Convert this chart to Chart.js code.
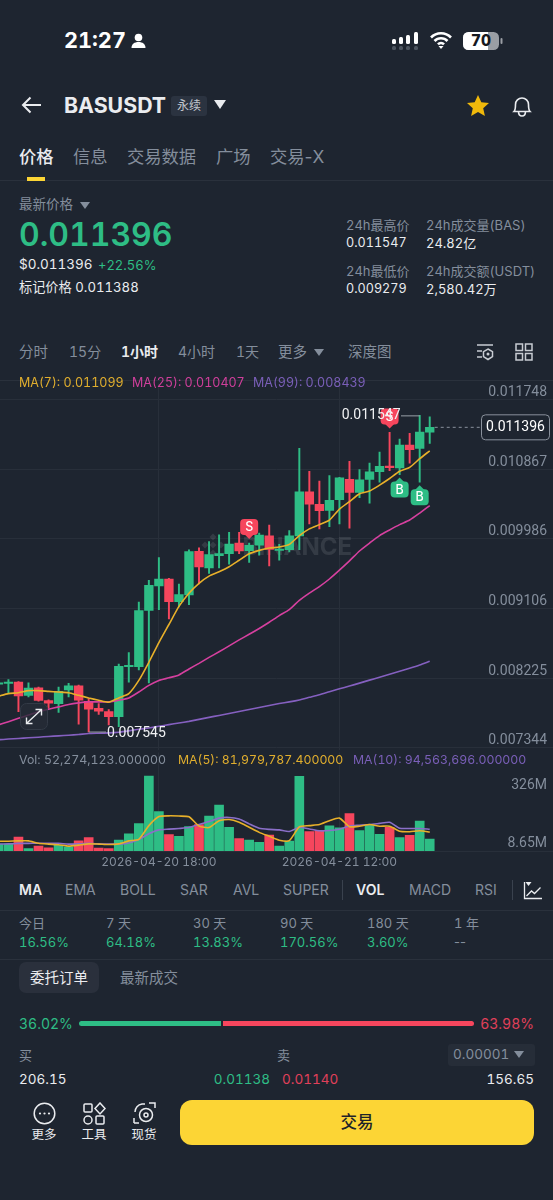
<!DOCTYPE html>
<html><head><meta charset="utf-8">
<script src="https://cdn.jsdelivr.net/npm/chart.js@4/dist/chart.umd.min.js"></script>
<style>
html,body{margin:0;padding:0;background:#1e2530;}
#app{position:relative;width:553px;height:1200px;overflow:hidden;background:#1e2530;font-family:Inter,"Noto Sans CJK SC",sans-serif;color:#eaecef;font-variant-numeric:tabular-nums;}
.t{position:absolute;white-space:nowrap;transform:translateY(-50%);line-height:1;}
.r{transform:translate(-100%,-50%);}
.c{transform:translate(-50%,-50%);}
.g{color:#848e9c}.w{color:#eaecef}.up{color:#2ebd85}.dn{color:#e0405a}
.line{position:absolute;left:0;width:553px;height:1px;background:#2a313c;}
canvas{position:absolute;left:0;}
svg{position:absolute;}
</style></head><body><div id="app">

<span class="t" style="left:64px;top:41px;font-size:21.700px;font-weight:700;color:#fff">21:27</span>
<svg style="left:130px;top:33px" width="17" height="16" viewBox="0 0 17 16"><circle cx="8.5" cy="4.5" r="3.8" fill="#fff"/><path d="M1.5 15c0-4 3-6 7-6s7 2 7 6z" fill="#fff"/></svg>
<svg style="left:391px;top:31px" width="30" height="20" viewBox="0 0 30 20"><g fill="#fff"><rect x="1" y="8" width="4" height="5" rx="1.5"/><rect x="8" y="6" width="4" height="7" rx="1.5"/><rect x="15" y="4" width="4" height="9" rx="1.5"/><rect x="23" y="1" width="4" height="12" rx="1.5"/></g><g fill="#4d5560"><rect x="1" y="15" width="4" height="4" rx="1.5"/><rect x="8" y="15" width="4" height="4" rx="1.5"/><rect x="15" y="15" width="4" height="4" rx="1.5"/><rect x="23" y="15" width="4" height="4" rx="1.5"/></g></svg>
<svg style="left:429px;top:30px" width="24" height="20" viewBox="0 0 24 20"><path d="M2 7.5a14 14 0 0 1 20 0M5.5 11a9 9 0 0 1 13 0M9 14.3a4 4 0 0 1 6 0" fill="none" stroke="#fff" stroke-width="2.6"/><path d="M12 19l-2.5-3h5z" fill="#fff"/></svg>
<svg style="left:462px;top:31px" width="42" height="20" viewBox="0 0 42 20"><rect x="1" y="1" width="36" height="18" rx="5.5" fill="#9a9ea4"/><path d="M6.5 1H26v18H6.5A5.5 5.5 0 0 1 1 13.5v-7A5.5 5.5 0 0 1 6.5 1z" fill="#fff"/><rect x="38.5" y="7" width="2" height="6" rx="1" fill="#9a9ea4"/></svg>
<span class="t c" style="left:481px;top:41px;font-size:15.5px;font-weight:800;color:#15191f">70</span>

<svg style="left:21px;top:95px" width="21" height="20" viewBox="0 0 21 20"><path d="M20 10H2M9.5 2.5L2 10l7.5 7.5" fill="none" stroke="#eaecef" stroke-width="2"/></svg>
<span class="t" style="left:64px;top:106px;font-size:21.300px;font-weight:700;color:#eaecef">BASUSDT</span>
<div style="position:absolute;left:171px;top:96px;width:36px;height:20px;border-radius:3px;background:#2b3340"></div>
<span class="t c" style="left:189px;top:106px;font-size:12px;color:#c0c5cc">永续</span>
<svg style="left:214px;top:100px" width="12" height="9" viewBox="0 0 12 9"><path d="M0 0h12L6 9z" fill="#eaecef"/></svg>
<svg style="left:466px;top:94px" width="24" height="23" viewBox="0 0 24 23"><path d="M12 1l3.3 7.3 7.7.8-5.8 5.2 1.7 7.7L12 18l-6.9 4 1.7-7.7L1 9.1l7.7-.8z" fill="#f0b90b"/></svg>
<svg style="left:511px;top:94px" width="22" height="24" viewBox="0 0 22 24"><path d="M3 17.5c1.5-1.5 1.5-4 1.5-7a6.5 6.5 0 0 1 13 0c0 3 0 5.500 1.500 7zM7.500 17.500c0 6 7 6 7 0" fill="none" stroke="#eaecef" stroke-width="1.600"/></svg>

<span class="t" style="left:19px;top:157px;font-size:17.300px;color:#eaecef;font-weight:500">价格</span>
<span class="t g" style="left:73px;top:157px;font-size:17.300px">信息</span>
<span class="t g" style="left:127px;top:157px;font-size:17.300px">交易数据</span>
<span class="t g" style="left:216px;top:157px;font-size:17.300px">广场</span>
<span class="t g" style="left:270px;top:157px;font-size:17.300px;font-variant-numeric:normal">交易-X</span>
<div class="line" style="top:180px"></div>
<div style="position:absolute;left:27px;top:177px;width:18px;height:4px;background:#fcd535"></div>

<span class="t g" style="left:19px;top:205px;font-size:13.500px">最新价格</span>
<svg style="left:80px;top:202px" width="10" height="7" viewBox="0 0 10 7"><path d="M0 0h10L5 7z" fill="#848e9c"/></svg>
<span class="t up" style="left:19px;top:235px;font-size:32px;font-weight:600">0.011396</span>
<span class="t" style="left:19px;top:265px;font-size:13.500px">$0.011396</span>
<span class="t up" style="left:98px;top:265px;font-size:13px">+22.56%</span>
<span class="t" style="left:19px;top:288px;font-size:13.200px">标记价格 0.011388</span>

<span class="t g" style="left:346px;top:225px;font-size:13px">24h最高价</span>
<span class="t" style="left:346px;top:243px;font-size:12.600px">0.011547</span>
<span class="t g" style="left:426px;top:225px;font-size:13px">24h成交量(BAS)</span>
<span class="t" style="left:426px;top:243px;font-size:13px">24.82亿</span>
<span class="t g" style="left:346px;top:271px;font-size:13px">24h最低价</span>
<span class="t" style="left:346px;top:289px;font-size:12.600px">0.009279</span>
<span class="t g" style="left:426px;top:271px;font-size:13px">24h成交额(USDT)</span>
<span class="t" style="left:426px;top:289px;font-size:13px">2,580.42万</span>

<span class="t g" style="left:19px;top:352px;font-size:14.500px">分时</span>
<span class="t g" style="left:69px;top:352px;font-size:14px">15分</span>
<span class="t" style="left:121px;top:352px;font-size:14px;font-weight:600;color:#eaecef">1小时</span>
<span class="t g" style="left:178px;top:352px;font-size:14px">4小时</span>
<span class="t g" style="left:236px;top:352px;font-size:14px">1天</span>
<span class="t g" style="left:278px;top:352px;font-size:14.500px">更多</span>
<svg style="left:314px;top:349px" width="10" height="7" viewBox="0 0 10 7"><path d="M0 0h10L5 7z" fill="#848e9c"/></svg>
<span class="t g" style="left:348px;top:352px;font-size:14.500px">深度图</span>
<svg style="left:476px;top:343px" width="18" height="18" viewBox="0 0 18 18"><path d="M1 2h16M1 8h5M1 14h5" stroke="#c8ccd2" stroke-width="1.500" fill="none"/><path d="M12 6l4.500 2.600v5L12 16.500 7.500 13.600v-5z" fill="none" stroke="#c8ccd2" stroke-width="1.500"/><circle cx="12" cy="11" r="1.500" fill="#c8ccd2"/></svg>
<svg style="left:515px;top:343px" width="18" height="18" viewBox="0 0 18 18"><g fill="none" stroke="#c8ccd2" stroke-width="1.500"><rect x="1" y="1" width="6.500" height="6.500"/><rect x="10.500" y="1" width="6.500" height="6.500"/><rect x="1" y="10.500" width="6.500" height="6.500"/><rect x="10.500" y="10.500" width="6.500" height="6.500"/></g></svg>

<div class="line" style="top:380px"></div>
<canvas id="price" width="553" height="371" style="top:381px;width:553px;height:371px"></canvas>
<canvas id="vol" width="553" height="125" style="top:750px;width:553px;height:125px"></canvas>

<span class="t" style="left:19px;top:383px;font-size:12.500px;color:#e0ae2e">MA(7): 0.011099</span>
<span class="t" style="left:132px;top:383px;font-size:12.500px;color:#cf3f9b">MA(25): 0.010407</span>
<span class="t" style="left:253px;top:383px;font-size:12.500px;color:#7a5fb8">MA(99): 0.008439</span>

<svg style="left:20px;top:703px" width="28" height="27" viewBox="0 0 28 27"><rect x=".5" y=".5" width="27" height="26" rx="6" fill="#262c37" fill-opacity=".8" stroke="#333a46"/><path d="M7 20L21 7M15.500 6.500H21.500V12.500M6.500 14.500V20.500H12.500" fill="none" stroke="#eaecef" stroke-width="1.400"/></svg>

<span class="t g" style="left:19px;top:760px;font-size:12.350px">Vol: 52,274,123.000000</span>
<span class="t" style="left:178px;top:760px;font-size:12.300px;color:#e0ae2e">MA(5): 81,979,787.400000</span>
<span class="t" style="left:353px;top:760px;font-size:12.300px;color:#7a5fb8">MA(10): 94,563,696.000000</span>

<span class="t" style="left:19px;top:890px;font-size:14px;font-weight:600">MA</span>
<span class="t g" style="left:65px;top:890px;font-size:14px">EMA</span>
<span class="t g" style="left:120px;top:890px;font-size:14px">BOLL</span>
<span class="t g" style="left:180px;top:890px;font-size:14px">SAR</span>
<span class="t g" style="left:233px;top:890px;font-size:14px">AVL</span>
<span class="t g" style="left:283px;top:890px;font-size:14px">SUPER</span>
<div style="position:absolute;left:342px;top:880px;width:1px;height:20px;background:#3a424e"></div>
<span class="t" style="left:356px;top:890px;font-size:14px;font-weight:600">VOL</span>
<span class="t g" style="left:409px;top:890px;font-size:14px">MACD</span>
<span class="t g" style="left:475px;top:890px;font-size:14px">RSI</span>
<div style="position:absolute;left:512px;top:880px;width:1px;height:20px;background:#3a424e"></div>
<svg style="left:523px;top:881px" width="20" height="19" viewBox="0 0 20 19"><path d="M1.500 1v16.500H19M3.500 15l5-5 3 2.500 6-6" fill="none" stroke="#eaecef" stroke-width="1.300"/><path d="M2.500 1h6L5.500 5z" fill="#eaecef"/></svg>
<div class="line" style="top:910px"></div>

<span class="t g" style="left:19px;top:923px;font-size:13px">今日</span>
<span class="t g" style="left:106px;top:923px;font-size:13px">7 天</span>
<span class="t g" style="left:193px;top:923px;font-size:13px">30 天</span>
<span class="t g" style="left:280px;top:923px;font-size:13px">90 天</span>
<span class="t g" style="left:367px;top:923px;font-size:13px">180 天</span>
<span class="t g" style="left:454px;top:923px;font-size:13px">1 年</span>
<span class="t up" style="left:19px;top:942px;font-size:13px">16.56%</span>
<span class="t up" style="left:106px;top:942px;font-size:13px">64.18%</span>
<span class="t up" style="left:193px;top:942px;font-size:13px">13.83%</span>
<span class="t up" style="left:280px;top:942px;font-size:13px">170.56%</span>
<span class="t up" style="left:367px;top:942px;font-size:13px">3.60%</span>
<span class="t g" style="left:454px;top:942px;font-size:13px;font-variant-numeric:normal">--</span>
<div class="line" style="top:959px"></div>

<div style="position:absolute;left:19px;top:962px;width:80px;height:31px;border-radius:7px;background:#2a303c"></div>
<span class="t c" style="left:59px;top:978px;font-size:14.500px">委托订单</span>
<span class="t g" style="left:120px;top:978px;font-size:14.500px">最新成交</span>

<span class="t up" style="left:19px;top:1024px;font-size:14px">36.02%</span>
<div style="position:absolute;left:79px;top:1021px;width:142px;height:5px;border-radius:3px 0 0 3px;background:#2ebd85"></div>
<div style="position:absolute;left:223px;top:1021px;width:251px;height:5px;border-radius:0 3px 3px 0;background:#f6465d"></div>
<span class="t r dn" style="left:534px;top:1024px;font-size:14px">63.98%</span>

<span class="t g" style="left:19px;top:1055px;font-size:13px">买</span>
<span class="t g" style="left:277px;top:1055px;font-size:13px">卖</span>
<div style="position:absolute;left:448px;top:1044px;width:87px;height:22px;border-radius:3px;background:#262d38"></div>
<span class="t g" style="left:453px;top:1055px;font-size:13.500px">0.00001</span>
<svg style="left:514px;top:1051px" width="10" height="7" viewBox="0 0 10 7"><path d="M0 0h10L5 7z" fill="#848e9c"/></svg>
<span class="t" style="left:19px;top:1080px;font-size:13.500px">206.15</span>
<span class="t r up" style="left:270px;top:1080px;font-size:13.500px">0.01138</span>
<span class="t dn" style="left:282px;top:1080px;font-size:13.500px">0.01140</span>
<span class="t r" style="left:534px;top:1080px;font-size:13.500px">156.65</span>

<svg style="left:33px;top:1102px" width="23" height="23" viewBox="0 0 23 23"><circle cx="11.500" cy="11.500" r="10.300" fill="none" stroke="#eaecef" stroke-width="1.500"/><circle cx="7" cy="11.500" r="1.100" fill="#eaecef"/><circle cx="11.500" cy="11.500" r="1.100" fill="#eaecef"/><circle cx="16" cy="11.500" r="1.100" fill="#eaecef"/></svg>
<svg style="left:83px;top:1102px" width="23" height="23" viewBox="0 0 23 23"><g fill="none" stroke="#eaecef" stroke-width="1.500"><rect x="1" y="2" width="8" height="8" rx="1"/><path d="M17 1l5 5.500-5 5.500-5-5.500z"/><circle cx="5" cy="18" r="4"/><rect x="13" y="14" width="8" height="8" rx="1"/></g></svg>
<svg style="left:133px;top:1102px" width="23" height="23" viewBox="0 0 23 23"><g fill="none" stroke="#eaecef" stroke-width="1.500"><path d="M1 21v-5M1 21h5M16 1h6v5M12 2h-3a8 8 0 0 0-7 8"/><circle cx="13" cy="13" r="6.500"/><circle cx="13" cy="13" r="2"/></g></svg>
<span class="t c" style="left:44px;top:1135px;font-size:12.500px">更多</span>
<span class="t c" style="left:94px;top:1135px;font-size:12.500px">工具</span>
<span class="t c" style="left:144px;top:1135px;font-size:12.500px">现货</span>
<div style="position:absolute;left:180px;top:1100px;width:354px;height:45px;border-radius:12px;background:#fcd535"></div>
<span class="t c" style="left:357px;top:1122px;font-size:16.500px;font-weight:500;color:#1e2329">交易</span>
</div>
<script>
const categories = ["2026-04-20 02:00","2026-04-20 03:00","2026-04-20 04:00","2026-04-20 05:00","2026-04-20 06:00","2026-04-20 07:00","2026-04-20 08:00","2026-04-20 09:00","2026-04-20 10:00","2026-04-20 11:00","2026-04-20 12:00","2026-04-20 13:00","2026-04-20 14:00","2026-04-20 15:00","2026-04-20 16:00","2026-04-20 17:00","2026-04-20 18:00","2026-04-20 19:00","2026-04-20 20:00","2026-04-20 21:00","2026-04-20 22:00","2026-04-20 23:00","2026-04-21 00:00","2026-04-21 01:00","2026-04-21 02:00","2026-04-21 03:00","2026-04-21 04:00","2026-04-21 05:00","2026-04-21 06:00","2026-04-21 07:00","2026-04-21 08:00","2026-04-21 09:00","2026-04-21 10:00","2026-04-21 11:00","2026-04-21 12:00","2026-04-21 13:00","2026-04-21 14:00","2026-04-21 15:00","2026-04-21 16:00","2026-04-21 17:00","2026-04-21 18:00","2026-04-21 19:00","2026-04-21 20:00","2026-04-21 21:00"];
const opens = [0.008151,0.008159,0.008176,0.008009,0.008105,0.007943,0.007905,0.008076,0.008130,0.007934,0.007843,0.007805,0.007739,0.008371,0.008371,0.009083,0.009391,0.009479,0.009192,0.009279,0.009829,0.009620,0.009775,0.009799,0.009933,0.009837,0.009908,0.010024,0.009841,0.009849,0.010024,0.010582,0.010424,0.010345,0.010482,0.010740,0.010574,0.010736,0.010836,0.010907,0.010882,0.011173,0.011128,0.011336];
const highs = [0.008197,0.008209,0.008184,0.008167,0.008113,0.007951,0.008113,0.008159,0.008138,0.007968,0.007905,0.007830,0.008405,0.008550,0.009187,0.009462,0.009749,0.009487,0.009416,0.009849,0.009874,0.009953,0.010037,0.010070,0.010070,0.009933,0.010058,0.010162,0.009916,0.010091,0.011132,0.010840,0.010715,0.010786,0.010765,0.010965,0.010861,0.010944,0.011082,0.011332,0.011248,0.011319,0.011547,0.011527];
const lows = [0.008009,0.008030,0.007801,0.007988,0.007934,0.007843,0.007793,0.007988,0.007643,0.007545,0.007768,0.007634,0.007614,0.008176,0.008330,0.008167,0.009092,0.008975,0.009125,0.009154,0.009416,0.009550,0.009620,0.009666,0.009799,0.009687,0.009779,0.009645,0.009716,0.009820,0.009849,0.010174,0.010112,0.010141,0.010174,0.010120,0.010507,0.010436,0.010703,0.010849,0.010799,0.010944,0.010703,0.011194];
const closes = [0.008167,0.008176,0.008001,0.008101,0.007943,0.007909,0.008059,0.008130,0.007947,0.007834,0.007809,0.007739,0.008376,0.008388,0.009079,0.009400,0.009479,0.009192,0.009283,0.009824,0.009633,0.009787,0.009799,0.009920,0.009833,0.009904,0.010033,0.009854,0.009858,0.010024,0.010582,0.010424,0.010341,0.010474,0.010757,0.010574,0.010732,0.010832,0.010903,0.010886,0.011173,0.011115,0.011336,0.011396];
const ma7 = [0.007997,0.008030,0.008042,0.008068,0.008068,0.008059,0.008051,0.008042,0.008009,0.007976,0.007947,0.007922,0.007976,0.008030,0.008197,0.008426,0.008675,0.008904,0.009133,0.009300,0.009425,0.009516,0.009570,0.009633,0.009716,0.009799,0.009841,0.009870,0.009883,0.009916,0.010028,0.010112,0.010166,0.010224,0.010362,0.010457,0.010557,0.010591,0.010665,0.010749,0.010840,0.010890,0.010999,0.011099];
const ma25 = [0.007634,0.007676,0.007718,0.007759,0.007801,0.007834,0.007863,0.007893,0.007913,0.007926,0.007926,0.007926,0.007947,0.007976,0.008051,0.008134,0.008197,0.008230,0.008267,0.008342,0.008413,0.008488,0.008559,0.008634,0.008709,0.008780,0.008854,0.008933,0.009017,0.009092,0.009208,0.009300,0.009383,0.009479,0.009591,0.009708,0.009833,0.009933,0.010028,0.010099,0.010166,0.010224,0.010312,0.010407];
const ma99 = [0.007447,0.007456,0.007464,0.007472,0.007480,0.007489,0.007497,0.007505,0.007514,0.007526,0.007530,0.007534,0.007543,0.007560,0.007580,0.007597,0.007618,0.007639,0.007659,0.007680,0.007705,0.007730,0.007755,0.007780,0.007805,0.007830,0.007855,0.007880,0.007905,0.007926,0.007951,0.007984,0.008017,0.008055,0.008092,0.008126,0.008163,0.008201,0.008238,0.008276,0.008313,0.008351,0.008392,0.008439];
const volumesM = [30,30,61,10,21,14,25,18,44,58,13,10,48,75,119,326,171,71,64,106,115,152,200,103,54,47,38,69,21,43,325,84,89,109,101,163,89,112,72,103,58,68,130,52.27];
const volMa5M = [42.5,42.5,44,44,34,30,27,21,25.5,31,30,28,31,44,51,110.5,150,153,152,149,109,102,132,137,125,103,81,64,47,45,105,110.5,115,132,143,106,108,115,108,108,86,84,88,81.98];
const volMa10M = [30,31,33,33,34,33,33,30,31,33,31,30,30,35,50,75,92,95,98,102,115,128,143,146,139,118,99,94,92,85,103,96,88,89,95,109,112,115,120,125,99,98,98,94.56];
const priceTicks = [0.007344,0.008225,0.009106,0.009986,0.010867,0.011748];
const timeTickIndex = [16,34];
const volTopTick = [326];
const volBottomTick = [8.65];
const lastPrice = 0.011396;
const highLabel = {index:42, value:0.011547, text:"0.011547"};
const lowLabel = {index:9, value:0.007545, text:"0.007545"};
const tradeMarks = [{index:25,kind:"S"},{index:39,kind:"S"},{index:40,kind:"B"},{index:42,kind:"B"}];

const GREEN="#2ebd85",RED="#f6465d",YEL="#e8b02a",MAG="#d6409f",PUR="#8560c0",GRID="#282f3a",TXT="#848e9c";
const FONT='Inter,"Noto Sans CJK SC",sans-serif';
const NUMFONT='Roboto,sans-serif';
const xMin=0.16, xMax=55.29;
const colorOf=i=>closes[i]>=opens[i]?GREEN:RED;
const cols=categories.map((_,i)=>colorOf(i));
const pts=a=>a.map((v,i)=>({x:i,y:v}));
const setTicks=list=>s=>{s.ticks=list.map(v=>({value:v}));};
const zeroWidth=s=>{s.width=0;};
const lineDs=(a,c,o)=>({type:"line",data:pts(a),borderColor:c,borderWidth:1.6,pointRadius:0,tension:0.2,order:o});

const overlay={id:"overlay",
 beforeDatasetsDraw(ch){
  const c=ch.ctx; c.save();
  c.fillStyle="rgba(255,255,255,0.1)";
  c.font="700 24px "+FONT; c.textBaseline="middle"; c.textAlign="right";
  c.fillText("BINANCE",352,548-381);
  const lx=213,ly=545-381,p=(x,y,r)=>{c.beginPath();c.moveTo(x,y-r);c.lineTo(x+r,y);c.lineTo(x,y+r);c.lineTo(x-r,y);c.closePath();c.fill();};
  p(lx,ly,3.5);p(lx,ly-8,3.5);p(lx,ly+8,3.5);p(lx-8,ly,3.5);p(lx+8,ly,3.5);
  c.restore();
 },
 afterDatasetsDraw(ch){
  const c=ch.ctx,x=ch.scales.x,y=ch.scales.y; c.save();
  const yl=y.getPixelForValue(lastPrice), xl=x.getPixelForValue(43);
  c.setLineDash([3,3]);c.strokeStyle="#8a919c";c.lineWidth=1;
  c.beginPath();c.moveTo(xl+5,yl);c.lineTo(481,yl);c.stroke();c.setLineDash([]);
  c.fillStyle="#1e2530";c.strokeStyle="#8a919c";
  c.beginPath();c.roundRect(481.500,yl-12.500,68,25,4);c.fill();c.stroke();
  c.fillStyle="#fff";c.font="14px "+NUMFONT;c.textAlign="center";c.textBaseline="middle";
  c.fillText(lastPrice.toFixed(6),515.500,yl+.5);
  const hx=x.getPixelForValue(highLabel.index),hy=y.getPixelForValue(highLabel.value);
  const lox=x.getPixelForValue(lowLabel.index),loy=y.getPixelForValue(lowLabel.value);
  tradeMarks.forEach(m=>{
    const mx=x.getPixelForValue(m.index), isS=m.kind==="S";
    const base=isS?y.getPixelForValue(highs[m.index])-4:y.getPixelForValue(lows[m.index])+3;
    const h=16, top=isS?base-20:base+4;
    c.fillStyle=isS?RED:GREEN;
    c.beginPath();c.roundRect(mx-9,top,18,h,4);c.fill();
    c.beginPath();
    if(isS){c.moveTo(mx-5,top+h-1);c.lineTo(mx+5,top+h-1);c.lineTo(mx,top+h+4);}
    else{c.moveTo(mx-5,top+1);c.lineTo(mx+5,top+1);c.lineTo(mx,top-4);}
    c.closePath();c.fill();
    c.fillStyle="#fff";c.font="500 12.500px "+FONT;
    c.fillText(m.kind,mx,top+h/2+.5);
  });
  c.strokeStyle="#9aa0a8";c.lineWidth=1;
  c.beginPath();c.moveTo(401,hy+.5);c.lineTo(hx,hy+.5);c.moveTo(lox,loy);c.lineTo(106,loy);c.stroke();
  c.fillStyle="#f0f1f3";c.font="14px "+NUMFONT;c.textAlign="right";
  c.fillText(highLabel.text,400.500,hy+.5);
  c.textAlign="left";
  c.fillText(lowLabel.text,107,loy+1);
  c.restore();
 }};

const xScale=(showLabels)=>({type:"linear",offset:false,min:xMin,max:xMax,
  grid:{offset:false,color:GRID,lineWidth:1,drawTicks:false},
  border:{display:showLabels,color:GRID},
  afterBuildTicks:setTicks(timeTickIndex),
  ticks:{display:showLabels,autoSkip:false,maxRotation:0,padding:4,color:TXT,font:{size:12,family:FONT},callback:v=>categories[v]}});

new Chart(document.getElementById("price"),{type:"bar",
 data:{datasets:[
  {data:categories.map((_,i)=>({x:i,y:[lows[i],highs[i]]})),backgroundColor:cols,barThickness:1.3,grouped:false,order:6},
  {data:categories.map((_,i)=>({x:i,y:[opens[i],closes[i]]})),backgroundColor:cols,barThickness:8.7,grouped:false,order:5},
  lineDs(ma99,PUR,3),lineDs(ma25,MAG,2),lineDs(ma7,YEL,1)]},
 options:{responsive:false,animation:false,events:[],layout:{padding:0},
  plugins:{legend:{display:false},tooltip:{enabled:false}},
  scales:{x:xScale(false),
   y:{type:"linear",position:"right",min:0.007323,max:0.011951,afterFit:zeroWidth,
    grid:{color:GRID,drawTicks:false},border:{display:false},
    afterBuildTicks:setTicks(priceTicks),
    ticks:{mirror:true,autoSkip:false,padding:-6,labelOffset:-7,color:TXT,font:{size:14,family:NUMFONT},callback:v=>v.toFixed(6)}}}},
 plugins:[overlay]});

new Chart(document.getElementById("vol"),{type:"bar",
 data:{datasets:[
  {data:pts(volumesM),backgroundColor:cols,barThickness:9,grouped:false,order:3},
  lineDs(volMa10M,"#8a6fc8",2),lineDs(volMa5M,YEL,1)]},
 options:{responsive:false,animation:false,events:[],layout:{padding:0},
  plugins:{legend:{display:false},tooltip:{enabled:false}},
  scales:{x:Object.assign(xScale(true),{afterFit:s=>{s.height=24;}}),
   y:{type:"linear",position:"right",min:0,max:429,afterFit:zeroWidth,
    grid:{display:false,drawTicks:false},border:{display:false},
    afterBuildTicks:setTicks(volTopTick),
    ticks:{mirror:true,autoSkip:false,padding:-6,labelOffset:9,color:TXT,font:{size:14,family:NUMFONT},callback:v=>v+"M"}},
   y2:{type:"linear",position:"right",min:0,max:429,afterFit:zeroWidth,
    grid:{display:false,drawTicks:false},border:{display:false},
    afterBuildTicks:setTicks(volBottomTick),
    ticks:{mirror:true,autoSkip:false,padding:-6,labelOffset:-6,color:TXT,font:{size:14,family:NUMFONT},callback:v=>v+"M"}}}}});
</script></body></html>
